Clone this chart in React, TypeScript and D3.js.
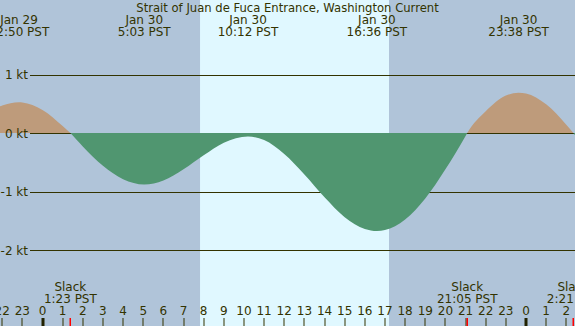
import React, { useEffect, useRef } from 'react';
import * as d3 from 'd3';

// hours from Jan 30 00:00 PST
const readingHours = [-4.08, -3, -2, -1.167, -1, 0, 1, 1.383, 2, 3, 4, 5.05, 6, 7, 8, 9, 10.2, 11, 12, 13, 14, 15, 16, 16.6, 17, 18, 19, 20, 21, 21.083, 22, 23, 23.633, 24, 25, 26, 26.35, 27, 28];
const readingKnots = [0, 0.29, 0.47, 0.525, 0.52, 0.395, 0.12, 0, -0.23, -0.56, -0.79, -0.88, -0.81, -0.62, -0.38, -0.165, -0.06, -0.12, -0.36, -0.71, -1.1, -1.44, -1.64, -1.675, -1.66, -1.48, -1.12, -0.62, -0.05, 0, 0.37, 0.64, 0.69, 0.675, 0.49, 0.14, 0, -0.32, -0.7];

const eventHours = [-1.167, 5.05, 10.2, 16.6, 23.633];
const eventDays = ['Jan 29', 'Jan 30', 'Jan 30', 'Jan 30', 'Jan 30'];
const eventTimes = ['22:50 PST', '5:03 PST', '10:12 PST', '16:36 PST', '23:38 PST'];

const slackHours = [1.383, 21.083, 26.35];
const slackTimes = ['1:23 PST', '21:05 PST', '2:21 PST'];

const ktTicks = [1, 0, -1, -2];
const sunrise = 7.82;
const sunset = 17.2;
const title = 'Strait of Juan de Fuca Entrance, Washington Current';

const W = 575;
const H = 326;
const ink = '#333300';
const font = '"DejaVu Sans", sans-serif';

const App: React.FC = () => {
  const svgRef = useRef<SVGSVGElement | null>(null);

  useEffect(() => {
    if (!svgRef.current) return;
    document.body.style.margin = '0';
    const svg = d3.select(svgRef.current);
    svg.selectAll('*').remove();

    const x = d3.scaleLinear().domain([0, 24]).range([42.5, 526]);
    const y = d3.scaleLinear().domain([0, 1]).range([133, 74.5]);

    svg.append('rect').attr('width', W).attr('height', H).attr('fill', '#b0c4d9');
    svg.append('rect')
      .attr('x', x(sunrise)).attr('width', x(sunset) - x(sunrise))
      .attr('y', 0).attr('height', H).attr('fill', '#e0f8ff');

    // grid lines
    ktTicks.forEach(k => {
      svg.append('line')
        .attr('x1', 30).attr('x2', W)
        .attr('y1', Math.round(y(k)) + 0.5).attr('y2', Math.round(y(k)) + 0.5)
        .attr('stroke', ink).attr('stroke-width', 1);
    });

    const pts = readingHours.map((h, i) => [h, readingKnots[i]] as [number, number]);
    const area = d3.area<[number, number]>()
      .x(d => x(d[0]))
      .y0(y(0))
      .y1(d => y(d[1]))
      .curve(d3.curveMonotoneX);

    const defs = svg.append('defs');
    defs.append('clipPath').attr('id', 'pos')
      .append('rect').attr('x', 0).attr('y', 0).attr('width', W).attr('height', y(0));
    defs.append('clipPath').attr('id', 'neg')
      .append('rect').attr('x', 0).attr('y', y(0)).attr('width', W).attr('height', H - y(0));

    svg.append('path').attr('d', area(pts)).attr('fill', '#be9b7b').attr('clip-path', 'url(#pos)');
    svg.append('path').attr('d', area(pts)).attr('fill', '#509670').attr('clip-path', 'url(#neg)');

    ktTicks.forEach(k => {
      svg.append('text')
        .attr('x', 28).attr('y', y(k) + 4.5)
        .attr('text-anchor', 'end')
        .attr('font-family', font).attr('font-size', 12).attr('fill', ink)
        .text(`${k} kt`);
    });

    const txt = (tx: number, ty: number, s: string, size = 12) =>
      svg.append('text')
        .attr('x', tx).attr('y', ty)
        .attr('text-anchor', 'middle')
        .attr('font-family', font).attr('font-size', size).attr('fill', ink)
        .text(s);

    txt(287.5, 12, title, 11.6);

    eventHours.forEach((h, i) => {
      txt(x(h), 24, eventDays[i]);
      txt(x(h), 36, eventTimes[i]);
    });

    slackHours.forEach((h, i) => {
      txt(x(h), 291, 'Slack');
      txt(x(h), 303, slackTimes[i]);
    });

    // hour axis
    d3.range(-2, 27).forEach(h => {
      const hx = Math.round(x(h));
      const hod = ((h % 24) + 24) % 24;
      svg.append('rect')
        .attr('x', hod === 0 ? hx - 1.5 : hx - 0.5)
        .attr('width', hod === 0 ? 3 : 1)
        .attr('y', 318).attr('height', 8)
        .attr('fill', hod === 0 ? '#222200' : ink);
      txt(x(h), 315, String(hod));
    });

    slackHours.forEach(h => {
      svg.append('rect')
        .attr('x', Math.round(x(h)) - 0.5).attr('width', 1.5)
        .attr('y', 318).attr('height', 8)
        .attr('fill', '#ff0000');
    });
  }, []);

  return <svg ref={svgRef} width={W} height={H} style={{ display: 'block' }}></svg>;
};

export default App;
